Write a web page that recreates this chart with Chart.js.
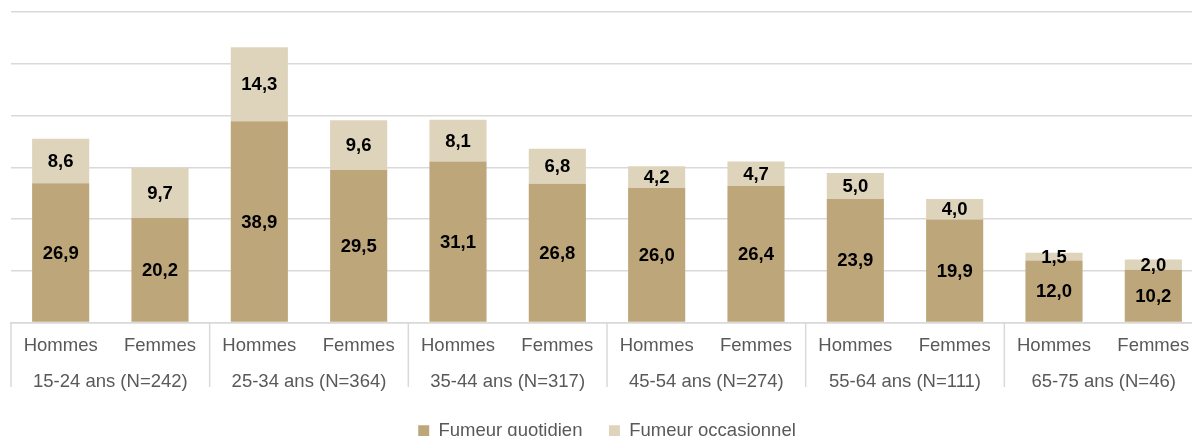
<!DOCTYPE html>
<html>
<head>
<meta charset="utf-8">
<script src="https://cdn.jsdelivr.net/npm/chart.js@4"></script>
<style>
  html, body { margin: 0; padding: 0; background: #fff; overflow: hidden; }
  #wrap { position: relative; width: 1203px; height: 450px; }
</style>
</head>
<body>
<div id="wrap"><canvas id="smokeChart"></canvas></div>
<script>
// Fumeurs quotidiens / occasionnels par sexe et tranche d'âge (%)
const sexLabels = ['Hommes', 'Femmes', 'Hommes', 'Femmes', 'Hommes', 'Femmes',
                   'Hommes', 'Femmes', 'Hommes', 'Femmes', 'Hommes', 'Femmes'];
const ageGroups = ['15-24 ans (N=242)', '25-34 ans (N=364)', '35-44 ans (N=317)',
                   '45-54 ans (N=274)', '55-64 ans (N=111)', '65-75 ans (N=46)'];
const dailySmokers = [26.9, 20.2, 38.9, 29.5, 31.1, 26.8, 26.0, 26.4, 23.9, 19.9, 12.0, 10.2];
const occasionalSmokers = [8.6, 9.7, 14.3, 9.6, 8.1, 6.8, 4.2, 4.7, 5.0, 4.0, 1.5, 2.0];
const yTicks = [0, 10, 20, 30, 40, 50, 60];

const FONT = 'Arial, "Liberation Sans", sans-serif';
const GRID = '#d9d9d9';

// valeurs au centre de chaque segment
const valueLabels = {
    id: 'valueLabels',
    afterDatasetsDraw(chart) {
        const ctx = chart.ctx;
        ctx.save();
        ctx.font = 'bold 18.5px ' + FONT;
        ctx.fillStyle = '#000';
        ctx.textAlign = 'center';
        ctx.textBaseline = 'middle';
        chart.data.datasets.forEach((ds, di) => {
            chart.getDatasetMeta(di).data.forEach((bar, i) => {
                const txt = ds.data[i].toFixed(1).replace('.', ',');
                ctx.fillText(txt, bar.x, (bar.y + bar.base) / 2 + 1);
            });
        });
        ctx.restore();
    }
};

// traits verticaux entre les tranches d'âge
const groupSeparators = {
    id: 'groupSeparators',
    afterDraw(chart) {
        const s = chart.scales.x2;
        const ctx = chart.ctx;
        ctx.save();
        ctx.strokeStyle = GRID;
        ctx.lineWidth = 1.5;
        for (let i = 0; i <= ageGroups.length; i++) {
            const x = s.left + i * s.width / ageGroups.length;
            ctx.beginPath();
            ctx.moveTo(x, chart.chartArea.bottom);
            ctx.lineTo(x, s.bottom - 8);
            ctx.stroke();
        }
        ctx.restore();
    }
};

new Chart(document.getElementById('smokeChart'), {
    type: 'bar',
    data: {
        labels: sexLabels,
        datasets: [
            {
                label: 'Fumeur quotidien',
                data: dailySmokers,
                backgroundColor: '#bea67b',
                categoryPercentage: 1,
                barPercentage: 0.575
            },
            {
                label: 'Fumeur occasionnel',
                data: occasionalSmokers,
                backgroundColor: '#ddd4bb',
                categoryPercentage: 1,
                barPercentage: 0.575
            }
        ]
    },
    options: {
        responsive: true,
        maintainAspectRatio: false,
        animation: false,
        layout: { padding: { left: 11, top: 12, right: 0, bottom: 0 } },
        plugins: {
            legend: {
                position: 'bottom',
                labels: {
                    boxWidth: 11,
                    boxHeight: 11,
                    padding: 26.5,
                    color: '#595959',
                    font: { family: FONT, size: 18.5 }
                }
            },
            tooltip: { enabled: false }
        },
        scales: {
            x: {
                stacked: true,
                grid: { display: false },
                border: { color: GRID, width: 1.5 },
                ticks: {
                    color: '#595959',
                    padding: 4,
                    maxRotation: 0,
                    autoSkip: false,
                    font: { family: FONT, size: 18.5 }
                }
            },
            x2: {
                type: 'category',
                position: 'bottom',
                labels: ageGroups,
                offset: true,
                grid: { display: false },
                border: { display: false },
                ticks: {
                    color: '#595959',
                    padding: 2,
                    maxRotation: 0,
                    autoSkip: false,
                    font: { family: FONT, size: 18.5 }
                }
            },
            y: {
                stacked: true,
                min: yTicks[0],
                max: yTicks[yTicks.length - 1],
                afterBuildTicks: axis => { axis.ticks = yTicks.map(v => ({ value: v })); },
                border: { display: false },
                grid: { color: GRID, lineWidth: 1.5, drawTicks: false },
                ticks: { display: false }
            }
        }
    },
    plugins: [valueLabels, groupSeparators]
});
</script>
</body>
</html>
